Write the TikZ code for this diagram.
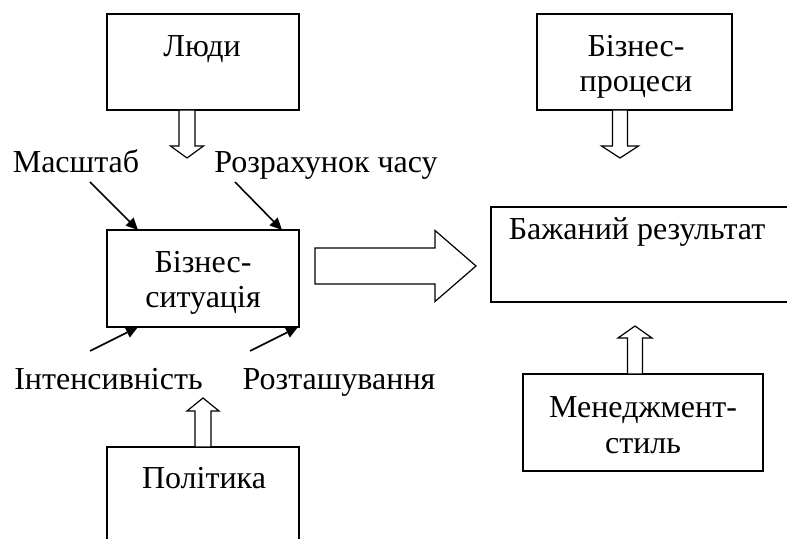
\documentclass[tikz,border=0pt]{standalone}
\usepackage{fontspec}
\setmainfont{Liberation Serif}
\usetikzlibrary{arrows.meta,calc}

\begin{document}
\begin{tikzpicture}[x=0.5pt, y=-0.5pt, >={Triangle[length=6pt,width=5.5pt]},
    font=\fontsize{16pt}{17.5pt}\selectfont,
    box/.style={draw, line width=0.6pt, inner sep=0pt, outer sep=0pt},
    lbl/.style={inner sep=0pt, anchor=base, align=center},
    hollow/.style={draw, line width=0.6pt, line join=miter, fill=white},
    pointer/.style={->, line width=0.8pt},
    pics/fatarrow/.style n args={4}{code={
        \draw[hollow] (0,-#2) -- (#1-#4,-#2) -- (#1-#4,-#3) -- (#1,0)
            -- (#1-#4,#3) -- (#1-#4,#2) -- (0,#2) -- cycle;}}]
    \useasboundingbox (0,0) rectangle (787,539);
    \clip (0,0) rectangle (787,539);

    % Boxes
    \node[box, minimum width=96pt, minimum height=48pt] (people) at (203,62) {};
    \node[box, minimum width=96pt, minimum height=48.5pt] (situation) at (203,278.5) {};
    \node[box, minimum width=96pt, minimum height=48pt] (policy) at (203,495) {};
    \node[box, minimum width=97.5pt, minimum height=48pt] (process) at (634.5,62) {};
    \node[box, minimum width=154.5pt, minimum height=47.5pt] (result) at (645.5,254.5) {};
    \node[box, minimum width=120pt, minimum height=48.5pt] (mstyle) at (643,422.5) {};

    % Box texts (base = last line)
    \node[lbl] at (202,57) {Люди};
    \node[lbl] at (203,308) {Бізнес-\\ситуація};
    \node[lbl] at (204,488) {Політика};
    \node[lbl] at (636,92) {Бізнес-\\процеси};
    \node[lbl] at (637,240) {Бажаний результат};
    \node[lbl] at (643,453) {Менеджмент-\\стиль};

    % Factors
    \node[lbl] (scale) at (76,173) {Масштаб};
    \node[lbl] (timing) at (326,173) {Розрахунок часу};
    \node[lbl] (intensity) at (108.5,390) {Інтенсивність};
    \node[lbl] (location) at (339,390) {Розташування};

    \coordinate (scale-tail) at ($(situation.north west)+(-17,-48)$);
    \coordinate (timing-tail) at ($(situation.north west)+(128,-48)$);
    \coordinate (intensity-tail) at ($(situation.south west)+(-17,24)$);
    \coordinate (location-tail) at ($(situation.south west)+(143,24)$);

    \draw[pointer] (scale-tail) -- ($(situation.north west)+(31,0)$);
    \draw[pointer] (timing-tail) -- ($(situation.north west)+(175,0)$);
    \draw[pointer] (intensity-tail) -- ($(situation.south west)+(31,0)$);
    \draw[pointer] (location-tail) -- ($(situation.south west)+(191,0)$);

    % Hollow arrows
    \pic[rotate=-90] at ($(people.south)+(-16,0)$) {fatarrow={48}{8}{16.5}{12}};
    \pic[rotate=90] at (policy.north) {fatarrow={49}{8}{16}{13}};
    \pic[rotate=-90] at ($(process.south)+(-14.5,0)$) {fatarrow={48}{7.5}{18.5}{12}};
    \pic[rotate=90] at ($(mstyle.north)+(-8,0)$) {fatarrow={48}{7.5}{17}{12}};
    \pic at ($(situation.east)+(16,-12.5)$) {fatarrow={161}{18}{35.5}{41}};
\end{tikzpicture}
\end{document}
